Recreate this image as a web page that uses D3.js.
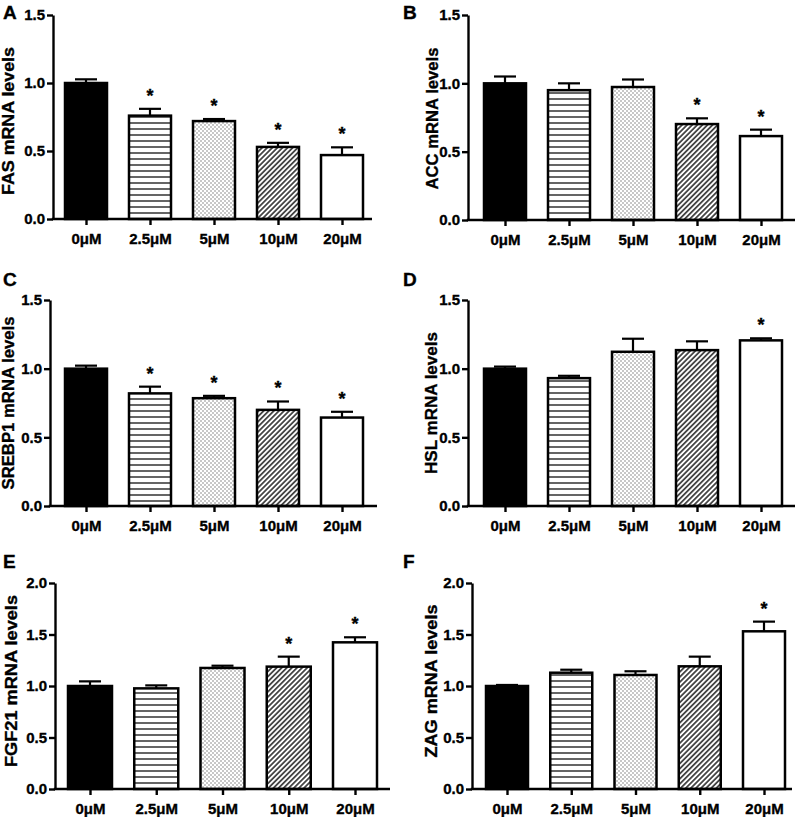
<!DOCTYPE html>
<html>
<head>
<meta charset="utf-8">
<script src="https://cdn.jsdelivr.net/npm/d3@7"></script>
<style>
  html, body { margin: 0; padding: 0; background: #fff; }
  svg { display: block; }
  text { font-family: "Liberation Sans", Arial, sans-serif; font-weight: bold; fill: #000; stroke: #000; stroke-width: 0.35px; }
</style>
</head>
<body>
<script>
// ---- data ----
const categories = ["0μM", "2.5μM", "5μM", "10μM", "20μM"];

const fasMean = [1.00, 0.76, 0.72, 0.53, 0.47];
const fasErr  = [0.027, 0.05, 0.015, 0.03, 0.057];
const fasSig  = [false, true, true, true, true];

const accMean = [1.00, 0.95, 0.973, 0.702, 0.614];
const accErr  = [0.05, 0.05, 0.055, 0.042, 0.047];
const accSig  = [false, false, false, true, true];

const srebp1Mean = [1.00, 0.82, 0.785, 0.70, 0.644];
const srebp1Err  = [0.022, 0.049, 0.017, 0.061, 0.042];
const srebp1Sig  = [false, true, true, true, true];

const hslMean = [1.00, 0.931, 1.123, 1.135, 1.206];
const hslErr  = [0.015, 0.017, 0.095, 0.064, 0.015];
const hslSig  = [false, false, false, false, true];

const fgf21Mean = [1.00, 0.977, 1.175, 1.188, 1.424];
const fgf21Err  = [0.045, 0.029, 0.022, 0.097, 0.049];
const fgf21Sig  = [false, false, false, true, true];

const zagMean = [1.00, 1.129, 1.107, 1.191, 1.531];
const zagErr  = [0.01, 0.029, 0.036, 0.094, 0.094];
const zagSig  = [false, false, false, false, true];

const yTicks15 = [0, 0.5, 1.0, 1.5];
const yTicks20 = [0, 0.5, 1.0, 1.5, 2.0];

const titles = ["FAS mRNA levels", "ACC mRNA levels", "SREBP1 mRNA levels",
                "HSL mRNA levels", "FGF21 mRNA levels", "ZAG mRNA levels"];
const letters = ["A", "B", "C", "D", "E", "F"];

// ---- layout (positions & sizes) ----
const panels = [
  {mean: fasMean,    err: fasErr,    sig: fasSig,    ticks: yTicks15, max: 1.5, ax: 53,  top: 15,  bot: 219, c0: 86,  c4: 342, end: 372, bw: 42, titleX: 14,  titleLen: 148, titleDy: 4, letterX: 3,   letterY: 19},
  {mean: accMean,    err: accErr,    sig: accSig,    ticks: yTicks15, max: 1.5, ax: 468, top: 15,  bot: 220, c0: 505, c4: 761, end: 795, bw: 42, titleX: 438, titleLen: 142, titleDy: 1, letterX: 403, letterY: 19},
  {mean: srebp1Mean, err: srebp1Err, sig: srebp1Sig, ticks: yTicks15, max: 1.5, ax: 50,  top: 300, bot: 506, c0: 86,  c4: 342, end: 377, bw: 42, titleX: 14,  titleLen: 173, titleDy: 0, letterX: 3,   letterY: 286},
  {mean: hslMean,    err: hslErr,    sig: hslSig,    ticks: yTicks15, max: 1.5, ax: 468, top: 300, bot: 506, c0: 505, c4: 761, end: 795, bw: 42, titleX: 437, titleLen: 142, titleDy: 0, letterX: 403, letterY: 286},
  {mean: fgf21Mean,  err: fgf21Err,  sig: fgf21Sig,  ticks: yTicks20, max: 2.0, ax: 55,  top: 583, bot: 789, c0: 90,  c4: 355, end: 390, bw: 44, titleX: 17,  titleLen: 172, titleDy: -5, letterX: 3,   letterY: 568},
  {mean: zagMean,    err: zagErr,    sig: zagSig,    ticks: yTicks20, max: 2.0, ax: 472, top: 583, bot: 789, c0: 507, c4: 764, end: 792, bw: 42, titleX: 437, titleLen: 153, titleDy: -5, letterX: 403, letterY: 568}
];
const fills = ["#000", "url(#hlines)", "url(#dots)", "url(#diag)", "#fff"];

const W = 799, H = 817;
const svg = d3.select("body").append("svg").attr("width", W).attr("height", H);

// patterns
const defs = svg.append("defs");
const pH = defs.append("pattern").attr("id", "hlines").attr("patternUnits", "userSpaceOnUse")
  .attr("width", 8).attr("height", 6);
pH.append("rect").attr("width", 8).attr("height", 6).attr("fill", "#fff");
pH.append("line").attr("x1", 0).attr("x2", 8).attr("y1", 3).attr("y2", 3)
  .attr("stroke", "#111").attr("stroke-width", 1.3);

const pD = defs.append("pattern").attr("id", "dots").attr("patternUnits", "userSpaceOnUse")
  .attr("width", 4).attr("height", 4);
pD.append("rect").attr("width", 4).attr("height", 4).attr("fill", "#fff");
pD.append("rect").attr("x", 0.5).attr("y", 0.5).attr("width", 1).attr("height", 1).attr("fill", "#222");
pD.append("rect").attr("x", 2.5).attr("y", 2.5).attr("width", 1).attr("height", 1).attr("fill", "#222");

const pG = defs.append("pattern").attr("id", "diag").attr("patternUnits", "userSpaceOnUse")
  .attr("width", 3.6).attr("height", 3.6).attr("patternTransform", "rotate(45)");
pG.append("rect").attr("width", 3.6).attr("height", 3.6).attr("fill", "#fff");
pG.append("line").attr("x1", 1.8).attr("x2", 1.8).attr("y1", 0).attr("y2", 3.6)
  .attr("stroke", "#111").attr("stroke-width", 1.4);

const tickFont = sel => sel.style("font-size", "15px")
  .style("font-family", '"Liberation Sans", Arial, sans-serif')
  .style("font-weight", "bold").attr("fill", "#000")
  .attr("stroke", "#000").attr("stroke-width", 0.35);

panels.forEach((p, pi) => {
  const g = svg.append("g");
  const y = d3.scaleLinear().domain([0, p.max]).range([p.bot, p.top]);
  const x = d3.scalePoint().domain(categories).range([p.c0, p.c4]);
  const rows = categories.map((c, i) => ({c, v: p.mean[i], e: p.err[i], s: p.sig[i], i}));

  // bars
  g.selectAll("rect.bar").data(rows).join("rect")
    .attr("class", "bar")
    .attr("x", d => x(d.c) - p.bw / 2)
    .attr("y", d => y(d.v))
    .attr("width", p.bw)
    .attr("height", d => p.bot - y(d.v))
    .attr("fill", d => fills[d.i])
    .attr("stroke", "#000").attr("stroke-width", 2.5);

  // error bars (upper)
  g.selectAll("line.ev").data(rows).join("line")
    .attr("class", "ev")
    .attr("x1", d => x(d.c)).attr("x2", d => x(d.c))
    .attr("y1", d => y(d.v)).attr("y2", d => y(d.v + d.e))
    .attr("stroke", "#000").attr("stroke-width", 2.2);
  g.selectAll("line.cap").data(rows).join("line")
    .attr("class", "cap")
    .attr("x1", d => x(d.c) - 11).attr("x2", d => x(d.c) + 11)
    .attr("y1", d => y(d.v + d.e)).attr("y2", d => y(d.v + d.e))
    .attr("stroke", "#000").attr("stroke-width", 2.2);

  // significance stars
  g.selectAll("text.star").data(rows.filter(d => d.s)).join("text")
    .attr("class", "star")
    .attr("x", d => x(d.c))
    .attr("y", d => y(d.v + d.e) - 7)
    .attr("text-anchor", "middle")
    .style("font-size", "18px")
    .text("*");

  // y axis
  const ya = g.append("g").attr("transform", `translate(${p.ax},0)`)
    .call(d3.axisLeft(y).tickValues(p.ticks).tickFormat(d3.format(".1f")).tickSize(6).tickSizeOuter(0).tickPadding(2));
  ya.selectAll("path,line").attr("stroke", "#000").attr("stroke-width", 2.4);
  ya.selectAll("text").call(tickFont);

  // x axis
  const xa = g.append("g").attr("transform", `translate(0,${p.bot})`)
    .call(d3.axisBottom(x).tickSize(6).tickSizeOuter(0).tickPadding(8));
  xa.select("path.domain").remove();
  xa.append("line").attr("x1", p.ax - 1.2).attr("x2", p.end).attr("y1", 0).attr("y2", 0)
    .attr("stroke", "#000").attr("stroke-width", 2.4);
  xa.selectAll(".tick line").attr("stroke", "#000").attr("stroke-width", 2.4);
  xa.selectAll("text").call(tickFont);

  // y title
  g.append("text")
    .attr("transform", `translate(${p.titleX},${(p.top + p.bot) / 2 + p.titleDy}) rotate(-90)`)
    .attr("text-anchor", "middle")
    .attr("textLength", p.titleLen)
    .attr("lengthAdjust", "spacingAndGlyphs")
    .style("font-size", "16.5px")
    .text(titles[pi]);

  // panel letter
  g.append("text")
    .attr("x", p.letterX).attr("y", p.letterY)
    .style("font-size", "19px")
    .text(letters[pi]);
});
</script>
</body>
</html>
